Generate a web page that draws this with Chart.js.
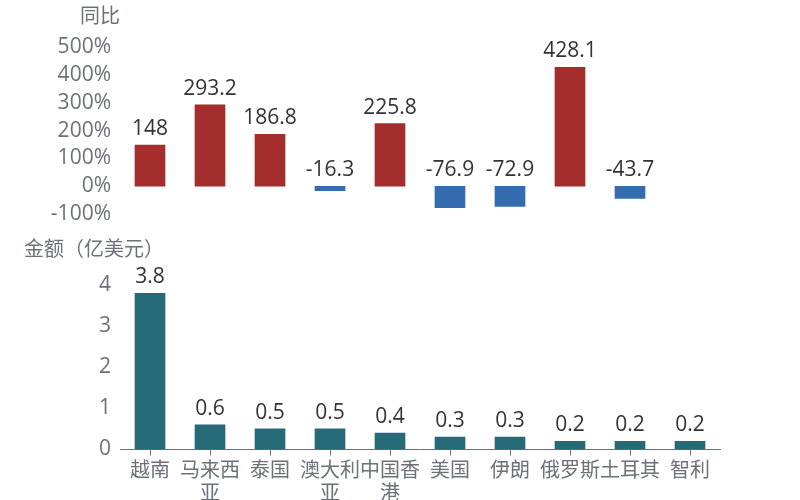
<!DOCTYPE html>
<html><head><meta charset="utf-8">
<script src="https://cdn.jsdelivr.net/npm/chart.js@4/dist/chart.umd.min.js"></script>
<style>
html,body{margin:0;padding:0;background:#fff;}
#wrap{position:relative;width:800px;height:500px;}
#wrap canvas{position:absolute;left:0;top:0;}
</style></head><body>
<div id="wrap"><canvas id="c2" width="800" height="500"></canvas><canvas id="c1" width="800" height="500"></canvas></div>
<script>
const categories = ['越南','马来西亚','泰国','澳大利亚','中国香港','美国','伊朗','俄罗斯','土耳其','智利'];
const yoyValues = [148, 293.2, 186.8, -16.3, 225.8, -76.9, -72.9, 428.1, -43.7, null];
const amountValues = [3.8, 0.6, 0.5, 0.5, 0.4, 0.3, 0.3, 0.2, 0.2, 0.2];
const yoyTicks = [-100, 0, 100, 200, 300, 400, 500];
const amountTicks = [0, 1, 2, 3, 4];
const yoyTitle = '同比';
const amountTitle = '金额（亿美元）';

const FONT = '"Open Sans", "Noto Sans CJK SC", sans-serif';
const CJK = '"Noto Sans CJK SC", sans-serif';
const GRAY = '#6E7079';
const RED = '#A42D2D';
const BLUE = '#356BAF';
const TEAL = '#266977';

function splitLabel(s) {
  const out = [];
  for (let i = 0; i < s.length; i += 3) out.push(s.slice(i, i + 3));
  return out.length > 1 ? out : s;
}

const valueLabels = {
  id: 'valueLabels',
  afterDatasetsDraw(chart) {
    const ctx = chart.ctx;
    ctx.save();
    ctx.font = '21px ' + FONT;
    ctx.fillStyle = '#333333';
    ctx.textAlign = 'center';
    ctx.textBaseline = 'alphabetic';
    const data = chart.data.datasets[0].data;
    chart.getDatasetMeta(0).data.forEach((bar, i) => {
      const v = data[i];
      if (v === null || v === undefined) return;
      const top = Math.min(bar.y, bar.base);
      ctx.fillText(String(v), bar.x, top - 10);
    });
    ctx.restore();
  }
};

const panelTitle = {
  id: 'panelTitle',
  afterDraw(chart, args, opts) {
    const ctx = chart.ctx;
    ctx.save();
    ctx.font = '20px ' + CJK;
    ctx.fillStyle = GRAY;
    ctx.textAlign = 'center';
    ctx.textBaseline = 'middle';
    ctx.fillText(opts.text, opts.x, opts.y);
    ctx.restore();
  }
};

function yAxis(min, max, ticksArr, fmt) {
  return {
    min: min, max: max,
    afterFit(s) { s.width = 120; },
    afterBuildTicks(s) { s.ticks = ticksArr.map(v => ({ value: v })); },
    grid: { display: false, drawTicks: false },
    border: { display: false },
    ticks: { padding: 9, autoSkip: false, color: GRAY, font: { size: 21, family: FONT, lineHeight: 1 }, callback: fmt }
  };
}

new Chart(document.getElementById('c1'), {
  type: 'bar',
  data: {
    labels: categories,
    datasets: [{
      data: yoyValues,
      barThickness: 30,
      backgroundColor: ctx => (ctx.raw < 0 ? BLUE : RED)
    }]
  },
  options: {
    responsive: false,
    animation: false,
    layout: { padding: { left: 0, right: 80, top: 47.5, bottom: 286 } },
    plugins: { legend: { display: false }, tooltip: { enabled: false },
      panelTitle: { text: yoyTitle, x: 100, y: 15 } },
    scales: {
      x: { type: 'category', display: false, offset: true },
      y: yAxis(-100, 500, yoyTicks, v => v + '%')
    }
  },
  plugins: [valueLabels, panelTitle]
});

new Chart(document.getElementById('c2'), {
  type: 'bar',
  data: {
    labels: categories,
    datasets: [{ data: amountValues, barThickness: 30, backgroundColor: TEAL }]
  },
  options: {
    responsive: false,
    animation: false,
    layout: { padding: { left: 0, right: 80, top: 285, bottom: 0 } },
    plugins: { legend: { display: false }, tooltip: { enabled: false },
      panelTitle: { text: amountTitle, x: 94, y: 248.5 } },
    scales: {
      x: {
        offset: true,
        afterFit(s) { s.height = 50.5; },
        grid: { display: true, drawOnChartArea: false, offset: false, tickLength: 6, color: GRAY },
        border: { display: true, color: GRAY },
        ticks: { color: GRAY, padding: 2, maxRotation: 0, autoSkip: false,
          font: { size: 20, family: CJK, lineHeight: 1.15 },
          callback: (v, i) => splitLabel(categories[i]) }
      },
      y: yAxis(0, 4, amountTicks, v => String(v))
    }
  },
  plugins: [valueLabels, panelTitle]
});
</script>
</body></html>
